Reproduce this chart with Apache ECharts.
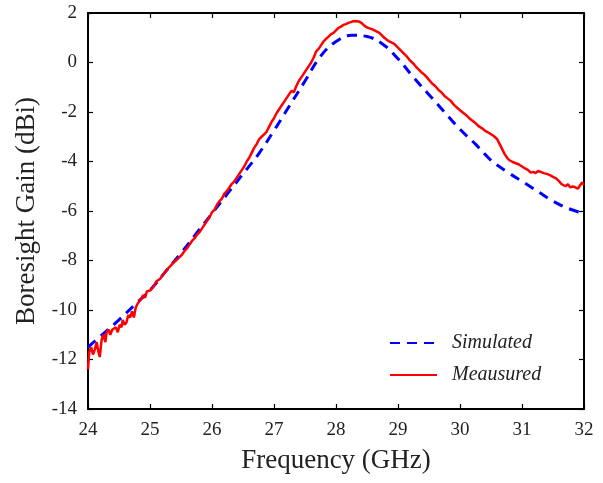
<!DOCTYPE html>
<html><head><meta charset="utf-8">
<script src="https://cdn.jsdelivr.net/npm/echarts@6/dist/echarts.min.js"></script>
<style>html,body{margin:0;padding:0;background:#fff}#c{width:603px;height:483px}</style>
</head><body><div id="c"></div>
<script>
const simFreq = [24.0,24.25,24.5,24.75,25.0,25.25,25.5,25.75,26.0,26.25,26.5,26.75,27.0,27.25,27.5,27.75,28.0,28.25,28.5,28.75,29.0,29.25,29.5,29.75,30.0,30.25,30.5,30.75,31.0,31.25,31.5,31.75,32.0];
const simGain = [-11.5,-10.95,-10.4,-9.8,-9.2,-8.45,-7.7,-6.9,-6.1,-5.3,-4.5,-3.7,-2.75,-1.75,-0.75,0.25,0.85,1.1,1.05,0.75,0.15,-0.6,-1.3,-2.0,-2.7,-3.3,-3.95,-4.4,-4.8,-5.2,-5.6,-5.9,-6.1];
const measFreq = [24.00,24.02,24.05,24.08,24.11,24.14,24.17,24.19,24.22,24.25,24.28,24.30,24.33,24.36,24.39,24.42,24.45,24.48,24.51,24.54,24.56,24.59,24.62,24.65,24.68,24.71,24.74,24.77,24.80,24.83,24.86,24.89,24.92,24.95,24.98,25.01,25.04,25.07,25.10,25.13,25.16,25.19,25.22,25.25,25.28,25.31,25.34,25.37,25.40,25.44,25.48,25.52,25.56,25.60,25.64,25.68,25.72,25.76,25.80,25.84,25.88,25.92,25.96,26.00,26.04,26.08,26.12,26.16,26.20,26.24,26.28,26.32,26.36,26.40,26.44,26.48,26.52,26.56,26.60,26.64,26.68,26.72,26.76,26.80,26.84,26.88,26.92,26.96,27.00,27.04,27.08,27.12,27.16,27.20,27.24,27.28,27.32,27.36,27.40,27.44,27.48,27.52,27.56,27.60,27.64,27.68,27.72,27.76,27.80,27.84,27.88,27.92,27.96,28.00,28.04,28.08,28.12,28.16,28.20,28.24,28.28,28.32,28.35,28.38,28.42,28.46,28.50,28.54,28.58,28.62,28.66,28.70,28.74,28.78,28.82,28.86,28.90,28.94,28.98,29.02,29.06,29.10,29.14,29.18,29.22,29.26,29.30,29.34,29.38,29.42,29.46,29.50,29.55,29.60,29.65,29.70,29.75,29.80,29.85,29.90,29.95,30.00,30.05,30.10,30.15,30.20,30.25,30.30,30.35,30.40,30.45,30.50,30.55,30.60,30.64,30.68,30.72,30.76,30.80,30.85,30.90,30.95,31.00,31.05,31.10,31.14,31.18,31.22,31.26,31.30,31.35,31.40,31.45,31.50,31.55,31.60,31.63,31.66,31.70,31.74,31.78,31.82,31.86,31.90,31.94,31.97,32.00];
const measGain = [-12.4,-11.7,-11.5,-11.8,-11.6,-11.3,-11.7,-11.9,-11.2,-11.0,-11.3,-10.9,-10.8,-11.0,-10.8,-10.85,-10.7,-10.9,-10.6,-10.7,-10.4,-10.6,-10.5,-10.2,-10.3,-10.05,-10.3,-9.9,-9.75,-9.8,-9.55,-9.4,-9.5,-9.25,-9.3,-9.2,-9.1,-9.0,-8.85,-8.9,-8.75,-8.7,-8.55,-8.5,-8.35,-8.3,-8.2,-8.1,-8.05,-7.95,-7.85,-7.75,-7.6,-7.5,-7.35,-7.2,-7.1,-6.95,-6.85,-6.7,-6.55,-6.4,-6.25,-6.05,-5.95,-5.75,-5.6,-5.5,-5.3,-5.2,-5.05,-4.9,-4.8,-4.65,-4.5,-4.35,-4.2,-4.0,-3.85,-3.65,-3.45,-3.3,-3.1,-3.0,-2.9,-2.8,-2.6,-2.4,-2.25,-2.05,-1.9,-1.75,-1.6,-1.45,-1.3,-1.15,-1.2,-0.95,-0.75,-0.6,-0.45,-0.3,-0.15,0.0,0.2,0.45,0.55,0.7,0.85,0.95,1.05,1.15,1.2,1.3,1.4,1.45,1.52,1.55,1.6,1.63,1.67,1.68,1.72,1.65,1.58,1.48,1.42,1.38,1.35,1.3,1.25,1.2,1.1,1.0,0.92,0.85,0.8,0.75,0.65,0.55,0.45,0.35,0.25,0.12,0.02,-0.08,-0.2,-0.3,-0.4,-0.48,-0.58,-0.7,-0.85,-0.95,-1.1,-1.2,-1.35,-1.45,-1.55,-1.7,-1.82,-1.93,-2.03,-2.13,-2.25,-2.35,-2.45,-2.57,-2.65,-2.75,-2.82,-2.9,-2.98,-3.1,-3.3,-3.5,-3.7,-3.85,-3.95,-4.02,-4.07,-4.12,-4.2,-4.28,-4.35,-4.45,-4.42,-4.47,-4.38,-4.42,-4.47,-4.5,-4.55,-4.62,-4.68,-4.8,-4.9,-4.85,-5.0,-4.92,-5.05,-5.0,-5.05,-5.1,-4.95,-4.85,-4.95];
const xTicks = [24,25,26,27,28,29,30,31,32];
const yTicks = [-14,-12,-10,-8,-6,-4,-2,0,2];

const FONT = '"Liberation Serif","DejaVu Serif",serif';
const chart = echarts.init(document.getElementById('c'), null, {renderer:'canvas'});
const axLine = {show:true, onZero:false, lineStyle:{color:'#000', width:2}};
const tick = {show:true, inside:true, length:5, lineStyle:{color:'#000', width:1.2}};
const lbl = {color:'#222', fontFamily:FONT, fontSize:19};
chart.setOption({
  animation:false,
  backgroundColor:'#fff',
  grid:{left:88, right:19, top:13, bottom:74},
  xAxis:[{
    type:'value', min:xTicks[0], max:xTicks[xTicks.length-1], interval:1,
    axisLine:axLine, axisTick:tick, splitLine:{show:false},
    axisLabel:Object.assign({margin:12}, lbl),
    name:'Frequency (GHz)', nameLocation:'middle', nameGap:38,
    nameTextStyle:{color:'#222', fontFamily:FONT, fontSize:27}
  },{
    type:'value', position:'top', min:xTicks[0], max:xTicks[xTicks.length-1], interval:1,
    axisLine:axLine, axisTick:tick, axisLabel:{show:false}, splitLine:{show:false}
  }],
  yAxis:[{
    type:'value', min:yTicks[0], max:yTicks[yTicks.length-1], interval:2,
    axisLine:axLine, axisTick:tick, splitLine:{show:false},
    axisLabel:Object.assign({margin:11}, lbl),
    name:'Boresight Gain (dBi)', nameLocation:'middle', nameGap:47,
    nameTextStyle:{color:'#222', fontFamily:FONT, fontSize:27}
  },{
    type:'value', position:'right', min:yTicks[0], max:yTicks[yTicks.length-1], interval:2,
    axisLine:axLine, axisTick:tick, axisLabel:{show:false}, splitLine:{show:false}
  }],
  legend:{
    orient:'vertical', left:384, top:328, itemWidth:47, itemHeight:14, itemGap:12,
    itemStyle:{opacity:0},
    textStyle:{color:'#222', fontFamily:FONT, fontSize:20, fontStyle:'italic', padding:[0,0,0,10]},
    data:['Simulated','Meausured']
  },
  series:[{
    name:'Simulated', type:'line', smooth:0.4, symbol:'none', z:3,
    data:simFreq.map((f,i)=>[f,simGain[i]]),
    lineStyle:{color:'#0000ff', width:3, type:[10,7]}, itemStyle:{color:'#0000ff'}
  },{
    name:'Meausured', type:'line', symbol:'none', z:4,
    data:measFreq.map((f,i)=>[f,measGain[i]]),
    lineStyle:{color:'#ff0000', width:2.5}, itemStyle:{color:'#ff0000'}
  }]
});
</script></body></html>
